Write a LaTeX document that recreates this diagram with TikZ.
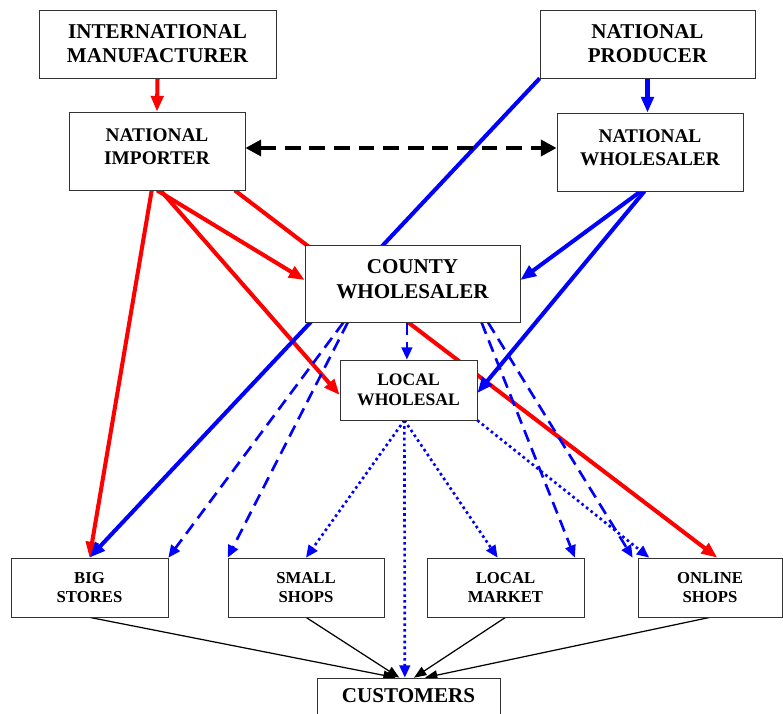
\documentclass[tikz,border=0pt]{standalone}
\usepackage{fontspec}
\setmainfont{Liberation Serif}
\usetikzlibrary{calc,positioning,backgrounds,arrows.meta}

\tikzset{
  box/.style={draw=black!80, fill=white, align=center, inner sep=0pt},
  bigtext/.style={font=\bfseries\fontsize{12}{13.8}\selectfont},
  midtext/.style={font=\bfseries\fontsize{11}{12.6}\selectfont},
  smalltext/.style={font=\bfseries\fontsize{9.5}{11.3}\selectfont},
  redline/.style={draw=red, line width=2.3pt, -{Triangle[length=9pt,width=7pt]}},
  blueline/.style={draw=blue, line width=2.3pt, -{Triangle[length=9pt,width=7pt]}},
  bluedash/.style={draw=blue, line width=1.5pt, dash pattern=on 7pt off 4pt, -{Triangle[length=7pt,width=6pt]}},
  bluedot/.style={draw=blue, line width=1.5pt, dash pattern=on 1.5pt off 1.8pt, -{Triangle[length=7pt,width=6pt]}},
  blackline/.style={draw=black, line width=0.7pt, -{Triangle[length=7pt,width=5.5pt]}},
  blackdash/.style={draw=black, line width=2.3pt, dash pattern=on 9pt off 5pt, {Triangle[length=9pt,width=9pt]}-{Triangle[length=9pt,width=9pt]}}
}

\begin{document}
\begin{tikzpicture}[x=0.02cm,y=-0.02cm]
\useasboundingbox (0,0) rectangle (783,713);

\node[box,bigtext,minimum width=4.74cm,minimum height=1.36cm] (intman) at (157.5,44) {INTERNATIONAL\\MANUFACTURER};
\node[box,bigtext,minimum width=4.3cm,minimum height=1.36cm] (natprod) at (647.5,44) {NATIONAL\\PRODUCER};
\node[box,midtext,minimum width=3.52cm,minimum height=1.56cm,text depth=5pt] (natimp) at (157,151) {NATIONAL\\IMPORTER};
\node[box,midtext,minimum width=3.72cm,minimum height=1.56cm,text depth=5pt] (natwhole) at (650,152) {NATIONAL\\WHOLESALER};
\node[box,bigtext,minimum width=4.3cm,minimum height=1.54cm,text depth=5pt] (county) at (412.5,283.5) {COUNTY\\WHOLESALER};
\node[box,font=\bfseries\fontsize{10}{11.3}\selectfont,minimum width=2.74cm,minimum height=1.2cm] (localw) at (408.5,390) {LOCAL\\WHOLESAL};

\node[box,smalltext,minimum width=3.14cm,minimum height=1.18cm] (big) at (89.5,587.5) {BIG\\STORES};
\node[box,smalltext,minimum width=3.12cm,minimum height=1.18cm] (small) at (306,587.5) {SMALL\\SHOPS};
\node[box,smalltext,minimum width=3.14cm,minimum height=1.18cm] (market) at (505.5,587.5) {LOCAL\\MARKET};
\node[box,smalltext,minimum width=2.88cm,minimum height=1.18cm] (online) at (710,587.5) {ONLINE\\SHOPS};
\node[box,bigtext,minimum width=3.66cm,minimum height=1cm,text depth=8pt] (customers) at (408.5,703) {CUSTOMERS};

\begin{scope}[on background layer]
% red
\draw[redline] (intman.south) -- (natimp.north);
\draw[redline] ($(natimp.south west)!0.47!(natimp.south east)$) -- (big.north);
\draw[redline] ($(natimp.south west)!0.5!(natimp.south east)$) -- ($(county.west)+(0,-3.5)$);
\draw[redline] ($(natimp.south west)!0.52!(natimp.south east)$) -- ($(localw.west)+(0,5)$);
\draw[redline] ($(natimp.south west)!0.94!(natimp.south east)$) -- ($(online.north west)!0.55!(online.north east)$);
% blue
\draw[blueline] (natprod.south) -- (natprod.south |- natwhole.north);
\draw[blueline] (natprod.south west) -- (big.north);
\draw[blueline] ($(natwhole.south west)!0.45!(natwhole.south east)$) -- ($(county.east)+(0,-3.5)$);
\draw[blueline] ($(natwhole.south west)!0.47!(natwhole.south east)$) -- ($(localw.east)+(0,3)$);
\draw[blackdash] ($(natimp.east)+(0,-3)$) -- ($(natimp.east -| natwhole.west)+(0,-3)$);
% from county
\draw[bluedash] ($(county.south west)!0.18!(county.south east)$) -- (big.north east);
\draw[bluedash] ($(county.south west)!0.2!(county.south east)$) -- (small.north west);
\draw[bluedash] ($(county.south west)!0.474!(county.south east)$) coordinate (cw) -- (cw |- localw.north);
\draw[bluedash] ($(county.south west)!0.82!(county.south east)$) -- ($(market.north west)!0.94!(market.north east)$);
\draw[bluedash] ($(county.south west)!0.85!(county.south east)$) -- ($(online.north west)+(-5,0)$);
% from local wholesal
\draw[bluedot] ($(localw.south west)!0.47!(localw.south east)$) -- (small.north);
\draw[bluedot] ($(localw.south west)!0.47!(localw.south east)$) -- ($(market.north west)!0.45!(market.north east)$);
\draw[bluedot] ($(localw.south west)!0.47!(localw.south east)$) -- ($(customers.north west)!0.48!(customers.north east)$);
\draw[bluedot] (localw.south east) -- ($(online.north west)!0.08!(online.north east)$);
% to customers
\draw[blackline] (big.south) -- ($(customers.north west)!0.43!(customers.north east)$);
\draw[blackline] (small.south) -- ($(customers.north west)!0.45!(customers.north east)$);
\draw[blackline] (market.south) -- ($(customers.north west)!0.53!(customers.north east)$);
\draw[blackline] (online.south) -- ($(customers.north west)!0.59!(customers.north east)$);
\end{scope}
\end{tikzpicture}
\end{document}
